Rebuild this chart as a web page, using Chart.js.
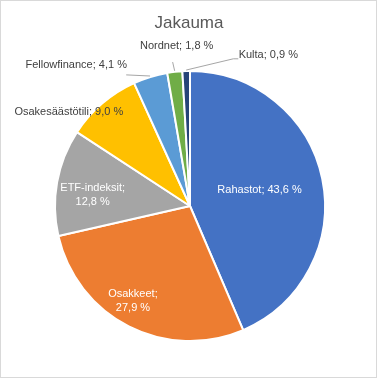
<!DOCTYPE html>
<html>
<head>
<meta charset="utf-8">
<script src="https://cdn.jsdelivr.net/npm/chart.js@4/dist/chart.umd.min.js"></script>
<style>
  html, body { margin: 0; padding: 0; background: #fff; }
  canvas { display: block; }
</style>
</head>
<body>
<canvas id="c" width="378" height="379"></canvas>
<script>
// ---- data ----
const chartTitle = "Jakauma";
const categories = ["Rahastot", "Osakkeet", "ETF-indeksit", "Osakesäästötili", "Fellowfinance", "Nordnet", "Kulta"];
const values = [43.6, 27.9, 12.8, 9.0, 4.1, 1.8, 0.9];
const valueLabels = ["43,6 %", "27,9 %", "12,8 %", "9,0 %", "4,1 %", "1,8 %", "0,9 %"];

// ---- styles ----
const colors = ["#4472C4", "#ED7D31", "#A5A5A5", "#FFC000", "#5B9BD5", "#70AD47", "#264478"];
// label placement in polar terms relative to the pie (radius factor, angle shift in degrees)
const labelStyle = [
  { rf: 0.525, da: -1.5, inside: true, twoLine: false },
  { rf: 0.815, da: 4, inside: true, twoLine: true },
  { rf: 0.72, da: -3.7, inside: true, twoLine: true },
  { rf: 1.127, da: -11.6, inside: false, twoLine: false },
  { rf: 1.333, da: -21.8, inside: false, twoLine: false, leader: [[50, 10]] },
  { rf: 1.18, da: 1.7, inside: false, twoLine: false, leader: [[-4, 16]] },
  { rf: 1.252, da: 29, inside: false, twoLine: false, leader: [[-35, 4], [-30, 4]] }
];
const labelFont = "11px 'Liberation Sans', Arial, sans-serif";

const labelPlugin = {
  id: 'pieLabels',
  beforeDraw(chart) {
    const ctx = chart.ctx;
    ctx.save();
    ctx.fillStyle = '#ffffff';
    ctx.fillRect(0, 0, chart.width, chart.height);
    ctx.strokeStyle = '#D9D9D9';
    ctx.lineWidth = 1;
    ctx.strokeRect(0.5, 0.5, chart.width - 2, chart.height - 2);
    ctx.fillStyle = '#595959';
    ctx.font = "17px 'Liberation Sans', Arial, sans-serif";
    ctx.textAlign = 'center';
    ctx.textBaseline = 'middle';
    ctx.fillText(chartTitle, chart.width / 2, 23);
    ctx.restore();
  },
  afterDatasetsDraw(chart) {
    const ctx = chart.ctx;
    const meta = chart.getDatasetMeta(0);
    ctx.save();
    ctx.font = labelFont;
    ctx.textAlign = 'center';
    ctx.textBaseline = 'middle';
    meta.data.forEach((arc, i) => {
      const st = labelStyle[i];
      const p = arc.getProps(['x', 'y', 'startAngle', 'endAngle', 'outerRadius'], true);
      const mid = (p.startAngle + p.endAngle) / 2;
      const a = mid + st.da * Math.PI / 180;
      const r = p.outerRadius + 1;
      const lx = p.x + Math.cos(a) * r * st.rf;
      const ly = p.y + Math.sin(a) * r * st.rf;
      if (st.leader) {
        ctx.strokeStyle = '#A6A6A6';
        ctx.lineWidth = 1;
        ctx.beginPath();
        ctx.moveTo(p.x + Math.cos(mid) * r, p.y + Math.sin(mid) * r);
        st.leader.forEach(pt => ctx.lineTo(lx + pt[0], ly + pt[1]));
        ctx.stroke();
      }
      ctx.fillStyle = st.inside ? '#ffffff' : '#404040';
      if (st.twoLine) {
        ctx.fillText(categories[i] + ';', lx, ly - 7);
        ctx.fillText(valueLabels[i], lx, ly + 7);
      } else {
        ctx.fillText(categories[i] + '; ' + valueLabels[i], lx, ly);
      }
    });
    ctx.restore();
  }
};

new Chart(document.getElementById('c'), {
  type: 'pie',
  data: {
    labels: categories,
    datasets: [{
      data: values,
      backgroundColor: colors,
      borderColor: '#ffffff',
      borderWidth: 2
    }]
  },
  options: {
    responsive: false,
    animation: false,
    devicePixelRatio: 1,
    layout: { padding: { top: 70, left: 54, right: 52, bottom: 37 } },
    plugins: {
      legend: { display: false },
      title: { display: false },
      tooltip: { enabled: false }
    }
  },
  plugins: [labelPlugin]
});
</script>
</body>
</html>
